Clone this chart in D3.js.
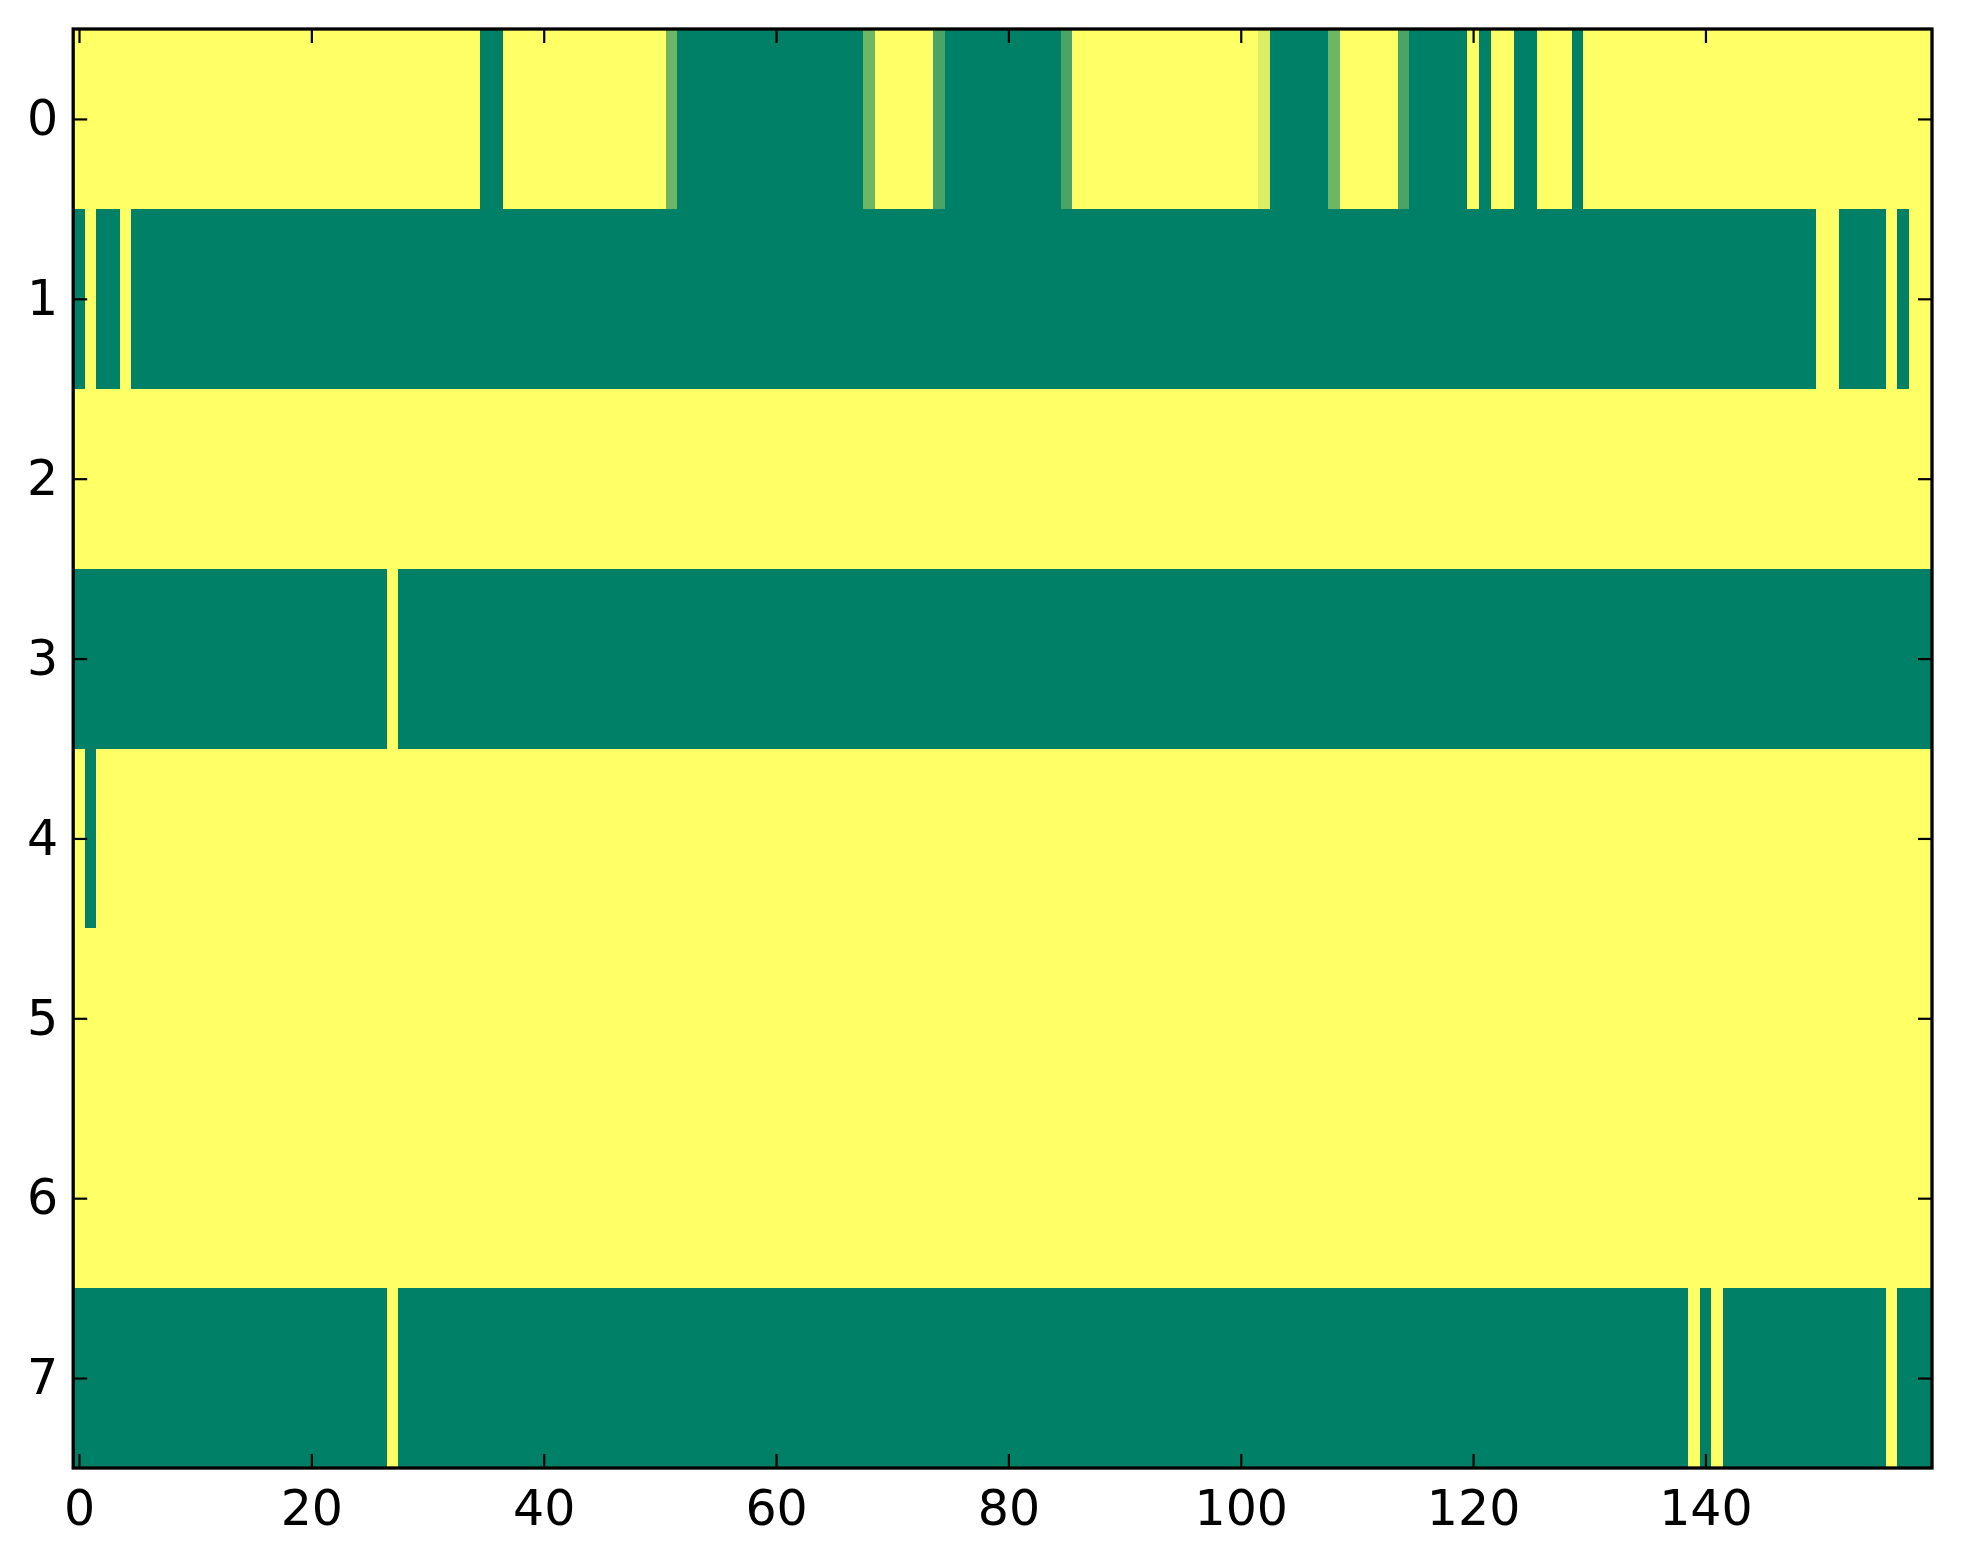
<!DOCTYPE html>
<html>
<head>
<meta charset="utf-8">
<script src="https://cdn.jsdelivr.net/npm/d3@7"></script>
<style>
  body { margin: 0; background: #fff; }
  svg { display: block; }
  .tick text { font-family: "DejaVu Sans", sans-serif; font-size: 49px; fill: #000; }
</style>
</head>
<body>
<svg id="chart"></svg>
<script>
// cell values, one string per row, 160 columns,
// each digit is the value in sevenths (0 = dark green, 7 = yellow)
const rowStrings = [
  "7777777777 7777777777 7777777777 7777700777 7777777777 7300000000 0000000037 7777200000 0000027777 7777777777 7760000037 7777200000 7077007770 7777777777 7777777777 7777777777",
  "0700700000 0000000000 0000000000 0000000000 0000000000 0000000000 0000000000 0000000000 0000000000 0000000000 0000000000 0000000000 0000000000 0000000000 0000000000 7700007077",
  "7777777777 7777777777 7777777777 7777777777 7777777777 7777777777 7777777777 7777777777 7777777777 7777777777 7777777777 7777777777 7777777777 7777777777 7777777777 7777777777",
  "0000000000 0000000000 0000000700 0000000000 0000000000 0000000000 0000000000 0000000000 0000000000 0000000000 0000000000 0000000000 0000000000 0000000000 0000000000 0000000000",
  "7077777777 7777777777 7777777777 7777777777 7777777777 7777777777 7777777777 7777777777 7777777777 7777777777 7777777777 7777777777 7777777777 7777777777 7777777777 7777777777",
  "7777777777 7777777777 7777777777 7777777777 7777777777 7777777777 7777777777 7777777777 7777777777 7777777777 7777777777 7777777777 7777777777 7777777777 7777777777 7777777777",
  "7777777777 7777777777 7777777777 7777777777 7777777777 7777777777 7777777777 7777777777 7777777777 7777777777 7777777777 7777777777 7777777777 7777777777 7777777777 7777777777",
  "0000000000 0000000000 0000000700 0000000000 0000000000 0000000000 0000000000 0000000000 0000000000 0000000000 0000000000 0000000000 0000000000 0000000007 0700000000 0000007000"
];
const xTicks = [0, 20, 40, 60, 80, 100, 120, 140];
const yTicks = [0, 1, 2, 3, 4, 5, 6, 7];

const width = 1963;
const height = 1564;
const margin = { top: 29, right: 31, bottom: 96, left: 73.2 };

const rows = rowStrings.map(s => s.replace(/\s/g, "").split("").map(ch => +ch / 7));
const nCols = rows[0].length;

const cells = [];
rows.forEach((r, i) => r.forEach((v, j) => cells.push({ row: i, col: j, value: v })));

const x = d3.scaleLinear().domain([-0.5, nCols - 0.5]).range([margin.left, width - margin.right]);
const y = d3.scaleLinear().domain([-0.5, rows.length - 0.5]).range([margin.top, height - margin.bottom]);

// matplotlib "summer" colormap
const color = d3.scaleLinear().domain([0, 1]).range(["#008066", "#ffff66"]).interpolate(d3.interpolateRgb);

const svg = d3.select("#chart")
  .attr("width", width)
  .attr("height", height)
  .attr("viewBox", [0, 0, width, height]);

svg.append("g")
  .attr("shape-rendering", "crispEdges")
  .selectAll("rect")
  .data(cells)
  .join("rect")
  .attr("x", d => x(d.col - 0.5))
  .attr("y", d => y(d.row - 0.5))
  .attr("width", d => x(d.col + 0.5) - x(d.col - 0.5) + 0.5)
  .attr("height", d => y(d.row + 0.5) - y(d.row - 0.5) + 0.5)
  .attr("fill", d => color(d.value));

const tickLen = 14;

function styleAxis(g) {
  g.select(".domain").remove();
  g.selectAll(".tick line").attr("stroke", "#000").attr("stroke-width", 2.2);
}

svg.append("g")
  .attr("transform", `translate(0,${height - margin.bottom})`)
  .call(d3.axisBottom(x).tickValues(xTicks).tickSize(-tickLen).tickPadding(22))
  .call(styleAxis);

svg.append("g")
  .attr("transform", `translate(0,${margin.top})`)
  .call(d3.axisTop(x).tickValues(xTicks).tickSize(-tickLen).tickFormat(""))
  .call(styleAxis);

svg.append("g")
  .attr("transform", `translate(${margin.left},0)`)
  .call(d3.axisLeft(y).tickValues(yTicks).tickSize(-tickLen).tickPadding(15))
  .call(styleAxis);

svg.append("g")
  .attr("transform", `translate(${width - margin.right},0)`)
  .call(d3.axisRight(y).tickValues(yTicks).tickSize(-tickLen).tickFormat(""))
  .call(styleAxis);

// frame
svg.append("rect")
  .attr("x", margin.left)
  .attr("y", margin.top)
  .attr("width", width - margin.right - margin.left)
  .attr("height", height - margin.bottom - margin.top)
  .attr("fill", "none")
  .attr("stroke", "#000")
  .attr("stroke-width", 3.3);
</script>
</body>
</html>
